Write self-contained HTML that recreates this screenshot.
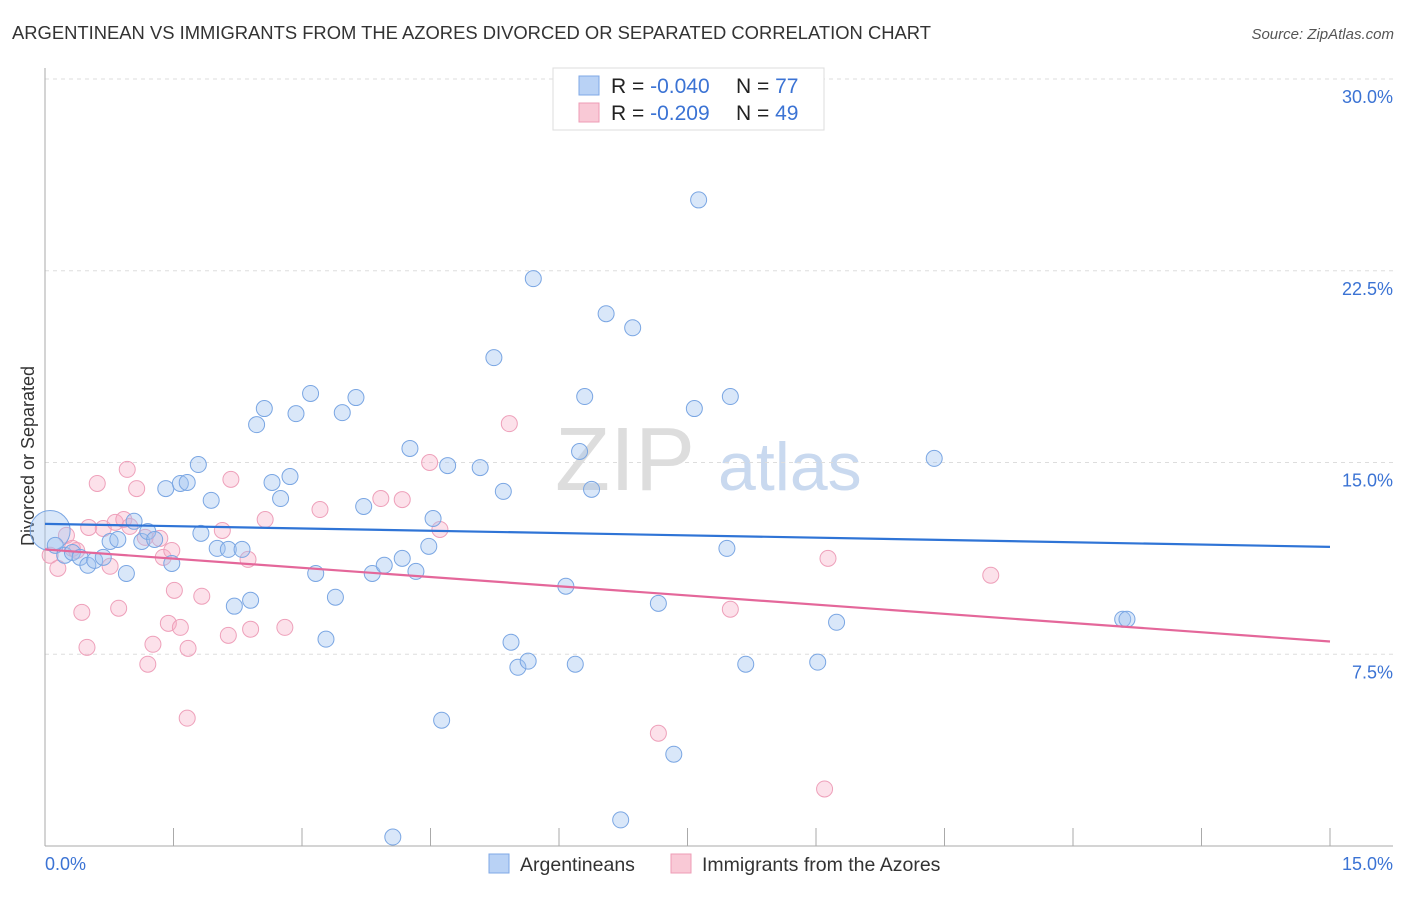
<!DOCTYPE html>
<html><head><meta charset="utf-8"><style>
body{margin:0;background:#fff;font-family:"Liberation Sans",sans-serif;}
svg text{font-family:"Liberation Sans",sans-serif;}
</style></head><body>
<svg id="chart" width="1406" height="892" xmlns="http://www.w3.org/2000/svg">
<text x="12" y="39" font-size="18.4" fill="#333">ARGENTINEAN VS IMMIGRANTS FROM THE AZORES DIVORCED OR SEPARATED CORRELATION CHART</text>
<text x="1394" y="39" font-size="15" fill="#555" font-style="italic" text-anchor="end">Source: ZipAtlas.com</text>
<text x="34" y="456" font-size="18" fill="#333" text-anchor="middle" transform="rotate(-90 34 456)">Divorced or Separated</text>
<text x="555" y="490" font-size="90" fill="#ddd" font-family="Liberation Serif">ZIP</text>
<text x="718" y="490" font-size="68" fill="#c9d9ef">atlas</text>
<g id="grid"></g><g id="axes"></g><g id="pts"></g><g id="trend"></g>
<g>
<rect x="553" y="68" width="271" height="62" fill="#fff" stroke="#ddd"/>
<rect x="579" y="76" width="20" height="19" fill="#b9d2f5" stroke="#7fa8e6"/>
<rect x="579" y="103" width="20" height="19" fill="#f9c9d6" stroke="#ee9cb6"/>
<text x="611" y="93" font-size="21" fill="#222">R = <tspan fill="#3b73d4">-0.040</tspan></text>
<text x="736" y="93" font-size="21" fill="#222">N = <tspan fill="#3b73d4">77</tspan></text>
<text x="611" y="120" font-size="21" fill="#222">R = <tspan fill="#3b73d4"> -0.209</tspan></text>
<text x="736" y="120" font-size="21" fill="#222">N = <tspan fill="#3b73d4">49</tspan></text>
</g>
<g>
<rect x="489" y="854" width="20" height="19" fill="#b9d2f5" stroke="#7fa8e6"/>
<text x="520" y="871" font-size="19.5" fill="#333">Argentineans</text>
<rect x="671" y="854" width="20" height="19" fill="#f9c9d6" stroke="#ee9cb6"/>
<text x="702" y="871" font-size="19.5" fill="#333">Immigrants from the Azores</text>
</g>
</svg>
<script>
const yTicks=[7.5,15,22.5,30];
const yTickLabels=["7.5%","15.0%","22.5%","30.0%"];
const xTicks=[0,1.5,3,4.5,6,7.5,9,10.5,12,13.5,15];
const blueX=[0.06,0.12,0.23,0.32,0.41,0.50,0.58,0.68,0.76,0.85,0.95,1.04,1.13,1.20,1.28,1.41,1.48,1.58,1.66,1.79,1.82,1.94,2.01,2.14,2.21,2.30,2.40,2.47,2.56,2.65,2.75,2.86,2.93,3.10,3.16,3.28,3.39,3.47,3.63,3.72,3.82,3.96,4.06,4.17,4.26,4.33,4.48,4.53,4.63,4.70,5.08,5.24,5.35,5.44,5.52,5.64,5.70,6.08,6.19,6.24,6.30,6.38,6.55,6.72,6.86,7.16,7.34,7.58,7.63,7.96,8.00,8.18,9.02,9.24,10.38,12.58,12.63];
const blueY=[12.34,11.76,11.37,11.48,11.29,10.98,11.17,11.29,11.91,11.99,10.66,12.70,11.91,12.30,11.99,13.98,11.05,14.18,14.22,14.92,12.23,13.52,11.64,11.60,9.38,11.60,9.61,16.48,17.11,14.22,13.59,14.45,16.91,17.70,10.66,8.09,9.73,16.95,17.54,13.28,10.66,10.98,0.35,11.25,15.55,10.74,11.72,12.81,4.92,14.88,14.80,19.10,13.87,7.97,6.99,7.23,22.19,10.16,7.11,15.43,17.58,13.95,20.82,1.02,20.27,9.49,3.59,17.11,25.27,11.64,17.58,7.11,7.19,8.75,15.16,8.87,8.87];
const pinkX=[0.06,0.15,0.25,0.32,0.37,0.43,0.49,0.51,0.61,0.68,0.76,0.82,0.86,0.92,0.96,0.99,1.07,1.17,1.20,1.26,1.34,1.38,1.44,1.48,1.51,1.58,1.66,1.67,1.83,2.07,2.14,2.17,2.37,2.40,2.57,2.80,3.21,3.92,4.17,4.49,4.61,5.42,7.16,8.00,9.10,9.14,11.04];
const pinkY=[11.37,10.86,12.15,11.64,11.56,9.14,7.77,12.46,14.18,12.42,10.94,12.66,9.30,12.77,14.73,12.50,13.98,12.07,7.11,7.89,12.03,11.29,8.71,11.56,10.00,8.55,5.00,7.73,9.77,12.34,8.24,14.34,11.21,8.48,12.77,8.55,13.16,13.59,13.55,15.00,12.38,16.52,4.41,9.26,2.23,11.25,10.59];
const blueTrend=[12.6,11.7];
const pinkTrend=[11.6,8.0];
const NS="http://www.w3.org/2000/svg";
const sx=v=>45+v*(1330-45)/15;
const sy=v=>846-v*(846-79)/30;
function mk(tag,parent,attrs){const e=document.createElementNS(NS,tag);for(const k in attrs)e.setAttribute(k,attrs[k]);document.getElementById(parent).appendChild(e);return e;}
yTicks.forEach((t,i)=>{
 const l=mk('line','grid',{x1:45,x2:1393,y1:sy(t),y2:sy(t),stroke:'#ddd','stroke-dasharray':'4,4'});
 
 
 const tx=mk('text','grid',{x:1393,y:sy(t)+24,'font-size':18,fill:'#3b73d4','text-anchor':'end'});
 tx.textContent=yTickLabels[i];
 
 
});
const ax=mk('line','axes',{x1:45,x2:1393,y1:846,y2:846,stroke:'#aaa'});


const ay=mk('line','axes',{x1:45,x2:45,y1:68,y2:846,stroke:'#aaa'});


xTicks.forEach(t=>{const l=mk('line','axes',{x1:sx(t),x2:sx(t),y1:828,y2:846,stroke:'#aaa'});
 
 });
const x0=mk('text','axes',{x:45,y:870,'font-size':18,fill:'#3b73d4'});x0.textContent='0.0%';


const x1=mk('text','axes',{x:1393,y:870,'font-size':18,fill:'#3b73d4','text-anchor':'end'});x1.textContent='15.0%';


pinkX.forEach((v,i)=>{const c=mk('circle','pts',{cx:sx(v),cy:sy(pinkY[i]),r:8,fill:'rgba(246,170,195,0.35)',stroke:'#eea0ba','stroke-width':1});
 
 });
blueX.forEach((v,i)=>{const c=mk('circle','pts',{cx:sx(v),cy:sy(blueY[i]),r:i===0?20:8,fill:'rgba(160,195,240,0.4)',stroke:'#7aa6e3','stroke-width':1});
 
 });
const tb=mk('line','trend',{x1:sx(0),x2:sx(15),y1:sy(blueTrend[0]),y2:sy(blueTrend[1]),stroke:'#2f74d6','stroke-width':2.2});


const tp=mk('line','trend',{x1:sx(0),x2:sx(15),y1:sy(pinkTrend[0]),y2:sy(pinkTrend[1]),stroke:'#e4679a','stroke-width':2.2});


</script>
</body></html>
